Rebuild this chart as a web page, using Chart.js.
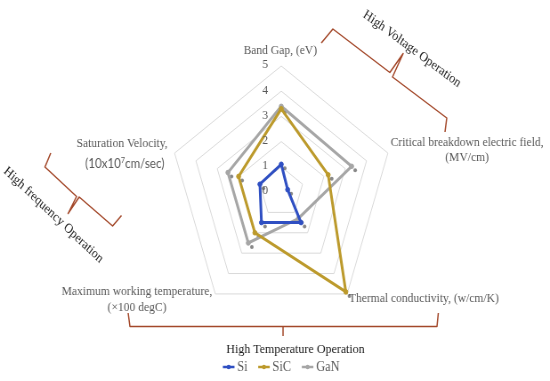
<!DOCTYPE html>
<html>
<head>
<meta charset="utf-8">
<script src="https://cdn.jsdelivr.net/npm/chart.js@4.4.0/dist/chart.umd.min.js"></script>
<style>
html, body { margin: 0; padding: 0; background: #fff; }
#myChart { display: block; }
</style>
</head>
<body>
<canvas id="myChart" width="618" height="381" style="width:550px;height:381px"></canvas>
<script>
// categories (one array of lines per axis)
var categories = [
    ['Band Gap, (eV)'],
    ['Critical breakdown electric field,', '(MV/cm)'],
    ['Thermal conductivity, (w/cm/K)'],
    ['Maximum working temperature,', '(\u00d7100 degC)'],
    ['Saturation Velocity,', '(10x10\u2077cm/sec)']
];
var siValues  = [1.1, 0.3, 1.5, 1.5, 1.0];
var sicValues = [3.3, 2.2, 4.9, 2.0, 2.0];
var ganValues = [3.4, 3.3, 1.3, 2.5, 2.5];
var tickLabels = ['0', '1', '2', '3', '4', '5'];

var SERIF = '"Liberation Serif", "Times New Roman", serif';
var GREY_TXT = '#595959';
var BRACKET = '#a3482a';

function drawText(ctx, s, x, y, size, color, align, angle, family) {
    ctx.save();
    ctx.translate(x, y);
    if (angle) ctx.rotate(angle * Math.PI / 180);
    ctx.font = size + 'px ' + (family || SERIF);
    ctx.fillStyle = color;
    ctx.textAlign = align || 'center';
    ctx.textBaseline = 'middle';
    ctx.fillText(s, 0, 0);
    ctx.restore();
}

function polyline(ctx, pts) {
    ctx.beginPath();
    ctx.moveTo(pts[0][0], pts[0][1]);
    for (var i = 1; i < pts.length; i++) ctx.lineTo(pts[i][0], pts[i][1]);
    ctx.stroke();
}

// label placement, relative to the outer vertex of each axis
var labelOffsets = [
    [[-1, -15]],
    [[89, -10], [89, 5]],
    [[2, 5]],
    [[-88, -2], [-88, 14]],
    [[-59, -9], [-56, 11]]
];
var labelAlign = ['center', 'center', 'left', 'center', 'center'];

var extras = {
    id: 'extras',
    beforeDatasetsDraw: function(chart) {
        // little marker shadows like the original
        var ctx = chart.ctx;
        ctx.save();
        ctx.fillStyle = 'rgba(85,85,85,0.7)';
        chart.data.datasets.forEach(function(ds, i) {
            chart.getDatasetMeta(i).data.forEach(function(pt) {
                ctx.beginPath();
                ctx.arc(pt.x + 4, pt.y + 4, 2, 0, Math.PI * 2);
                ctx.fill();
            });
        });
        ctx.restore();
    },
    afterDraw: function(chart) {
        var ctx = chart.ctx;
        var r = chart.scales.r;

        // tick labels, left of the vertical axis
        r.ticks.forEach(function(t) {
            var y = r.yCenter - r.getDistanceFromCenterForValue(t.value);
            drawText(ctx, t.label, r.xCenter - 18, y - 1, 13, GREY_TXT, 'center');
        });

        // axis labels
        chart.data.labels.forEach(function(lines, i) {
            var p = r.getPointPosition(i, r.drawingArea);
            lines.forEach(function(line, j) {
                var off = labelOffsets[i][j];
                var x = p.x + off[0], y = p.y + off[1];
                if (line.indexOf('\u2077') >= 0) {
                    // sans-serif line with a raised 7
                    var parts = line.split('\u2077');
                    var fam = 'Lato, "Liberation Sans", sans-serif';
                    ctx.font = '13px ' + fam;
                    var w1 = ctx.measureText(parts[0]).width;
                    var w2 = ctx.measureText(parts[1]).width;
                    ctx.font = '8px ' + fam;
                    var ws = ctx.measureText('7').width;
                    var x0 = x - (w1 + ws + w2) / 2;
                    drawText(ctx, parts[0], x0, y, 13, GREY_TXT, 'left', 0, fam);
                    drawText(ctx, '7', x0 + w1, y - 4, 8, GREY_TXT, 'left', 0, fam);
                    drawText(ctx, parts[1], x0 + w1 + ws, y, 13, GREY_TXT, 'left', 0, fam);
                } else {
                    drawText(ctx, line, x, y, 13, GREY_TXT, labelAlign[i]);
                }
            });
        });

        // group brackets
        ctx.save();
        ctx.strokeStyle = BRACKET;
        ctx.lineWidth = 1.5;
        ctx.lineJoin = 'round';
        polyline(ctx, [[361, 43], [374, 29], [438, 72.5], [453, 53.5], [441, 77], [502, 118], [500, 132]]);
        polyline(ctx, [[57, 153], [50.5, 167], [86, 196.5], [76.5, 213.5], [89, 197], [126.5, 226], [136.5, 215.5]]);
        polyline(ctx, [[144, 313], [146, 326.5], [491, 326.5], [492.5, 313]]);
        polyline(ctx, [[r.xCenter + 2, 326.5], [r.xCenter + 2, 336]]);
        ctx.restore();

        drawText(ctx, 'High Voltage Operation', 463, 49, 13.5, '#1a1a1a', 'center', 33.5);
        drawText(ctx, 'High frequency Operation', 60, 215, 13.5, '#1a1a1a', 'center', 40);
        drawText(ctx, 'High Temperature Operation', 332, 349, 13.5, '#1a1a1a', 'center');

        // legend
        ctx.save();
        ctx.font = '14px ' + SERIF;
        var lineW = 13, gap = 3, sep = 12;
        var items = chart.data.datasets.map(function(ds) {
            return { text: ds.label, color: ds.borderColor, w: ctx.measureText(ds.label).width };
        });
        var total = items.reduce(function(s, it) { return s + lineW + gap + it.w; }, 0) + sep * (items.length - 1);
        var x = r.xCenter - total / 2, y = 367;
        items.forEach(function(it) {
            ctx.strokeStyle = it.color;
            ctx.lineWidth = 2.5;
            ctx.beginPath();
            ctx.moveTo(x, y);
            ctx.lineTo(x + lineW, y);
            ctx.stroke();
            ctx.fillStyle = it.color;
            ctx.beginPath();
            ctx.arc(x + lineW / 2, y, 2.2, 0, Math.PI * 2);
            ctx.fill();
            drawText(ctx, it.text, x + lineW + gap, y, 14, GREY_TXT, 'left');
            x += lineW + gap + it.w + sep;
        });
        ctx.restore();
    }
};

function series(label, values, color) {
    return {
        label: label,
        data: values,
        borderColor: color,
        backgroundColor: color,
        pointBackgroundColor: color,
        pointBorderColor: color,
        borderWidth: 3,
        pointRadius: 2.3,
        pointBorderWidth: 1,
        fill: false
    };
}

var ctx = document.getElementById('myChart').getContext('2d');
var chart = new Chart(ctx, {
    type: 'radar',
    data: {
        labels: categories,
        datasets: [
            series('Si', siValues, '#2f4fc2'),
            series('SiC', sicValues, '#bc9a2c'),
            series('GaN', ganValues, '#a6a6a6')
        ]
    },
    options: {
        responsive: false,
        animation: false,
        layout: { padding: { left: 190, right: 176, top: 66, bottom: 63 } },
        plugins: {
            legend: { display: false },
            tooltip: { enabled: false }
        },
        elements: { line: { tension: 0 } },
        scales: {
            r: {
                min: 0,
                max: 5,
                ticks: {
                    stepSize: 1,
                    display: false,
                    callback: function(v, i) { return tickLabels[i]; }
                },
                grid: { color: '#d9d9d9', lineWidth: 1 },
                angleLines: { display: false },
                pointLabels: { display: false }
            }
        }
    },
    plugins: [extras]
});
</script>
</body>
</html>
